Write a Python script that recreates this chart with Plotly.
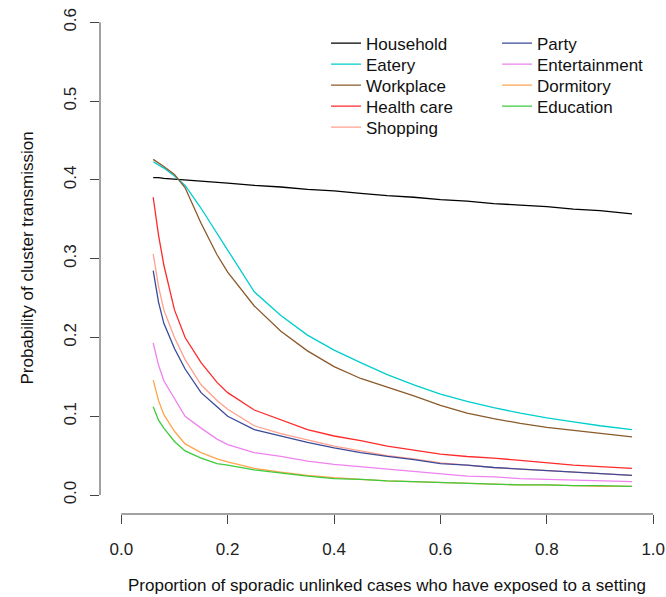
import plotly.graph_objects as go

# ---- data ----
x_prop = [0.06, 0.07, 0.08, 0.10, 0.12, 0.15, 0.18, 0.20, 0.25, 0.30, 0.35, 0.40,
          0.45, 0.50, 0.55, 0.60, 0.65, 0.70, 0.75, 0.80, 0.85, 0.90, 0.96]

household = [0.403, 0.403, 0.402, 0.401, 0.400, 0.399, 0.397, 0.396, 0.393, 0.391, 0.388, 0.386,
             0.383, 0.380, 0.378, 0.375, 0.373, 0.370, 0.368, 0.366, 0.363, 0.361, 0.357]
eatery = [0.423, 0.419, 0.415, 0.405, 0.393, 0.364, 0.333, 0.311, 0.258, 0.228, 0.203, 0.184,
          0.168, 0.153, 0.140, 0.128, 0.119, 0.111, 0.104, 0.098, 0.093, 0.088, 0.083]
workplace = [0.426, 0.422, 0.417, 0.407, 0.390, 0.345, 0.305, 0.283, 0.240, 0.208, 0.183, 0.163,
             0.148, 0.137, 0.126, 0.114, 0.104, 0.097, 0.091, 0.086, 0.082, 0.078, 0.074]
health_care = [0.378, 0.330, 0.292, 0.235, 0.200, 0.168, 0.143, 0.130, 0.108, 0.095, 0.083, 0.075,
               0.069, 0.062, 0.057, 0.052, 0.049, 0.047, 0.044, 0.041, 0.038, 0.036, 0.034]
shopping = [0.306, 0.265, 0.235, 0.200, 0.172, 0.140, 0.120, 0.109, 0.088, 0.078, 0.070, 0.062,
            0.056, 0.050, 0.046, 0.041, 0.038, 0.035, 0.033, 0.031, 0.029, 0.027, 0.025]
party = [0.285, 0.245, 0.218, 0.186, 0.160, 0.130, 0.112, 0.100, 0.083, 0.075, 0.067, 0.060,
         0.054, 0.049, 0.045, 0.040, 0.038, 0.035, 0.033, 0.031, 0.029, 0.027, 0.025]
entertainment = [0.193, 0.165, 0.145, 0.123, 0.100, 0.085, 0.071, 0.064, 0.054, 0.049, 0.043, 0.039,
                 0.036, 0.033, 0.030, 0.027, 0.024, 0.023, 0.021, 0.020, 0.019, 0.018, 0.017]
dormitory = [0.146, 0.120, 0.102, 0.081, 0.065, 0.054, 0.046, 0.042, 0.034, 0.029, 0.025, 0.022,
             0.020, 0.018, 0.017, 0.016, 0.015, 0.014, 0.013, 0.013, 0.012, 0.011, 0.011]
education = [0.112, 0.095, 0.085, 0.068, 0.056, 0.047, 0.040, 0.038, 0.032, 0.028, 0.024, 0.021,
             0.020, 0.018, 0.017, 0.016, 0.015, 0.014, 0.013, 0.013, 0.012, 0.012, 0.011]

series_names = ["Household", "Eatery", "Workplace", "Health care", "Shopping",
                "Party", "Entertainment", "Dormitory", "Education"]
series_values = [household, eatery, workplace, health_care, shopping,
                 party, entertainment, dormitory, education]
series_colors = ["#000000", "#00CDCD", "#8B5A2B", "#FF2A2A", "#FFA08C",
                 "#3A4A9A", "#EE82EE", "#FFA54F", "#3CCB3C"]

x_ticks = [0.0, 0.2, 0.4, 0.6, 0.8, 1.0]
x_tick_labels = ["0.0", "0.2", "0.4", "0.6", "0.8", "1.0"]
y_ticks = [0.0, 0.1, 0.2, 0.3, 0.4, 0.5, 0.6]
y_tick_labels = ["0.0", "0.1", "0.2", "0.3", "0.4", "0.5", "0.6"]

x_title = "Proportion of sporadic unlinked cases who have exposed to a setting"
y_title = "Probability of cluster transmission"

FONT = "Liberation Sans, Arial, sans-serif"
FS = 17
AXC = "#444444"

# layout geometry (pixels)
W, H = 666, 597
ML, MR, MT, MB = 100, 0, 3, 83
PW, PH = W - ML - MR, H - MT - MB

# legend layout: two columns like R's legend(ncol=2)
LEG_COL_LEFT = [326, 497]          # pixel left edge of each legend column
LEG_ROW_CENTER = [43, 64, 85, 106, 127]
ROWS_PER_COL = 5

fig = go.Figure()
legend_layout = {}
for i, (name, vals, col) in enumerate(zip(series_names, series_values, series_colors)):
    lid = "legend" if i == 0 else f"legend{i + 1}"
    fig.add_trace(go.Scatter(x=x_prop, y=vals, mode="lines", name=name,
                             line=dict(color=col, width=1.3), legend=lid))
    c, r = divmod(i, ROWS_PER_COL)
    top_px = LEG_ROW_CENTER[r] - 17.5
    legend_layout[lid] = dict(
        x=(LEG_COL_LEFT[c] - ML) / PW, xanchor="left",
        y=1 - (top_px - MT) / PH, yanchor="top",
        bgcolor="rgba(0,0,0,0)", borderwidth=0,
        font=dict(size=FS, family=FONT, color="#111111"))

fig.update_layout(
    template="none",
    width=W, height=H,
    margin=dict(l=ML, r=MR, t=MT, b=MB, autoexpand=False),
    paper_bgcolor="white", plot_bgcolor="white",
    font=dict(family=FONT, size=FS, color="#111111"),
    showlegend=True,
    xaxis=dict(range=[-0.04, 1.024], showgrid=False, zeroline=False, showline=False,
               automargin=False,
               tickmode="array", tickvals=x_ticks, ticktext=x_tick_labels,
               ticks="outside", ticklen=9, tickcolor=AXC, tickwidth=1,
               ticklabelstandoff=11, tickfont=dict(size=FS, family=FONT, color="#222")),
    yaxis=dict(range=[-0.024, 0.6245], showgrid=False, zeroline=False, showline=False,
               automargin=False,
               tickmode="array", tickvals=y_ticks, ticktext=y_tick_labels,
               ticks="outside", ticklen=9, tickcolor=AXC, tickwidth=1, tickangle=-90,
               ticklabelstandoff=7, tickfont=dict(size=FS, family=FONT, color="#222")),
    **legend_layout,
)

# axis lines spanning only the tick range (R style)
fig.add_shape(type="line", xref="x", yref="paper", x0=x_ticks[0], x1=x_ticks[-1], y0=0, y1=0,
              line=dict(color=AXC, width=1))
fig.add_shape(type="line", xref="paper", yref="y", x0=0, x1=0, y0=y_ticks[0], y1=y_ticks[-1],
              line=dict(color=AXC, width=1))

fig.add_annotation(text=x_title, xref="x", yref="paper", x=0.5, y=0, yshift=-71,
                   showarrow=False, xanchor="center", yanchor="middle",
                   font=dict(size=FS, family=FONT, color="#111"))
fig.add_annotation(text=y_title, xref="paper", yref="paper", x=0, xshift=-73, y=0.5,
                   showarrow=False, textangle=-90, xanchor="center", yanchor="middle",
                   font=dict(size=FS, family=FONT, color="#111"))

fig.write_html("out.html", config={"displayModeBar": False},
               post_script="document.body.style.margin='0px';document.body.style.overflow='hidden';")
